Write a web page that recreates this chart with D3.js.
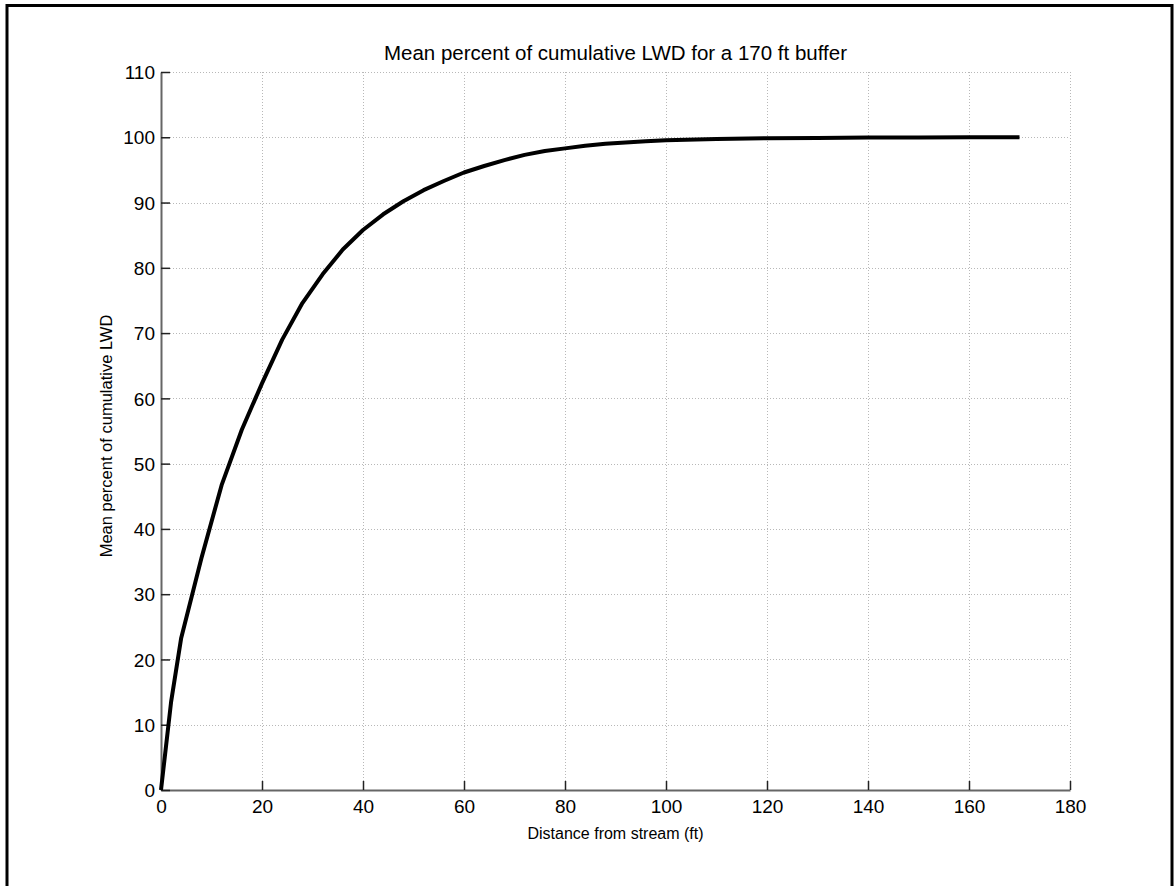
<!DOCTYPE html>
<html><head><meta charset="utf-8">
<script src="https://cdn.jsdelivr.net/npm/d3@7"></script>
<style>
html,body{margin:0;padding:0;background:#fff;}
svg{display:block;}
text{font-family:"Liberation Sans",Arial,Helvetica,sans-serif;fill:#000;}
</style></head>
<body>
<svg id="chart" width="1174" height="886"></svg>
<script>
const distance = [0,2,4,8,12,16,20,24,28,32,36,40,44,48,52,56,60,64,68,72,76,80,84,88,92,96,100,110,120,130,140,150,160,170];
const meanPct  = [0,13.5,23.3,35.5,46.7,55.2,62.3,69.0,74.6,79.0,82.8,85.8,88.2,90.2,91.9,93.3,94.6,95.6,96.5,97.3,97.9,98.3,98.7,99.0,99.2,99.4,99.55,99.75,99.85,99.9,99.95,99.97,99.99,100];
const xTicks = [0,20,40,60,80,100,120,140,160,180];
const yTicks = [0,10,20,30,40,50,60,70,80,90,100,110];
const titleText = "Mean percent of cumulative LWD for a 170 ft buffer";
const xLabel = "Distance from stream (ft)";
const yLabel = "Mean percent of cumulative LWD";

const svg = d3.select("#chart");
const L = 161, R = 1070, T = 72, B = 790;
const x = d3.scaleLinear().domain([0,180]).range([L,R]);
const y = d3.scaleLinear().domain([0,110]).range([B,T]);

// outer frame
svg.append("rect").attr("x",7).attr("y",5.5).attr("width",1165).attr("height",900)
  .attr("fill","none").attr("stroke","#000").attr("stroke-width",3);

// grid
const grid = svg.append("g");
grid.selectAll(".gx").data(xTicks).join("line")
  .attr("x1",d=>Math.round(x(d))+0.5).attr("x2",d=>Math.round(x(d))+0.5)
  .attr("y1",T).attr("y2",B)
  .attr("stroke","#b8b8b8").attr("stroke-width",1).attr("stroke-dasharray","1,2");
grid.selectAll(".gy").data(yTicks).join("line")
  .attr("y1",d=>Math.round(y(d))+0.5).attr("y2",d=>Math.round(y(d))+0.5)
  .attr("x1",L).attr("x2",R)
  .attr("stroke","#b8b8b8").attr("stroke-width",1).attr("stroke-dasharray","1,2");

// axes
const xAxis = d3.axisBottom(x).tickValues(xTicks).tickSizeInner(-9).tickSizeOuter(0).tickPadding(18);
const yAxis = d3.axisLeft(y).tickValues(yTicks).tickSizeInner(-9).tickSizeOuter(0).tickPadding(15);
const gx = svg.append("g").attr("transform",`translate(0,${B})`).call(xAxis);
const gy = svg.append("g").attr("transform",`translate(${L},0)`).call(yAxis);
[gx,gy].forEach(g=>{
  g.select(".domain").attr("stroke","#666").attr("stroke-width",2);
  g.selectAll(".tick line").attr("stroke","#222").attr("stroke-width",1.5);
  g.selectAll(".tick text").attr("font-size",19).attr("font-family","Liberation Sans, Arial, sans-serif").attr("fill","#000");
});
gy.selectAll(".tick text").attr("x",-6).attr("dy","0.35em");
gx.selectAll(".tick text").attr("y",10).attr("dy","0.71em");

// curve
const line = d3.line().x((d,i)=>x(distance[i])).y(d=>y(d));
svg.append("path").datum(meanPct).attr("d",line)
  .attr("fill","none").attr("stroke","#000").attr("stroke-width",4).attr("stroke-linejoin","round");

// labels
svg.append("text").attr("x",(L+R)/2).attr("y",60).attr("text-anchor","middle").attr("font-size",20.5).text(titleText);
svg.append("text").attr("x",(L+R)/2).attr("y",839).attr("text-anchor","middle").attr("font-size",16).text(xLabel);
svg.append("text").attr("transform",`translate(112,436) rotate(-90)`).attr("text-anchor","middle").attr("font-size",16.5).text(yLabel);
</script>
</body></html>
